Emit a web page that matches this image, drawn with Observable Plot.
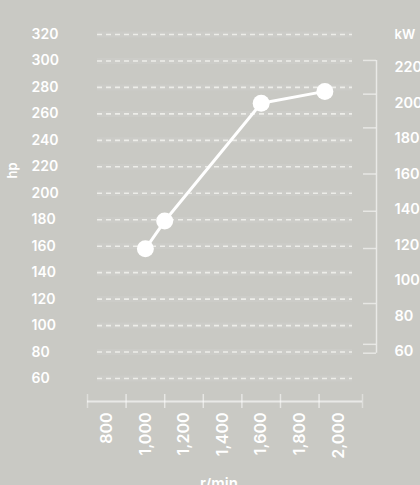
<!DOCTYPE html>
<html>
<head>
<meta charset="utf-8">
<script src="https://cdn.jsdelivr.net/npm/d3@7"></script>
<script src="https://cdn.jsdelivr.net/npm/@observablehq/plot@0.6"></script>
<style>
  html, body { margin: 0; padding: 0; background: #c9c9c4; overflow: hidden; }
  g[aria-label="x-labels"] text { letter-spacing: 1.2px; }
  g[aria-label="kw-title"] text { letter-spacing: 2px; }
  g[aria-label="hp-title"] text { letter-spacing: 1px; }
  g[aria-label="x-title"] text { letter-spacing: 2px; }
</style>
</head>
<body>
<div id="chart"></div>
<script>
// Data
const rpm = [1000, 1100, 1600, 1930];
const hp = [158, 179, 268, 277];
const hpTicks = [60, 80, 100, 120, 140, 160, 180, 200, 220, 240, 260, 280, 300, 320];
const kwTicks = [60, 80, 100, 120, 140, 160, 180, 200, 220];
const kwAxisTicks = [224, 205, 186, 160, 139, 118, 87, 64, 59];
const rpmTicks = [800, 1000, 1200, 1400, 1600, 1800, 2000];
const rpmAxisTicks = [900, 1100, 1300, 1500, 1700, 1900];
const HP_PER_KW = 1 / 0.7457;

const data = rpm.map((r, i) => ({rpm: r, hp: hp[i]}));
const fmt = d3.format(",");
const white = "#ffffff";
const font = "Inter, 'Liberation Sans', sans-serif";

const chart = Plot.plot({
  width: 420,
  height: 485,
  marginLeft: 87,
  marginRight: 58,
  marginTop: 34,
  marginBottom: 107,
  x: {domain: [700, 2125], axis: null},
  y: {domain: [60, 320], axis: null},
  style: {background: "#c9c9c4", color: white, fontFamily: font, overflow: "visible"},
  marks: [
    // faint bands behind grid lines
    Plot.ruleY(hpTicks, {y: d => d, stroke: white, strokeOpacity: 0.07, strokeWidth: 6, insetLeft: 10, insetRight: 10}),
    // dashed grid lines
    Plot.ruleY(hpTicks, {y: d => d, stroke: "#f2f2ee", strokeOpacity: 0.85, strokeWidth: 1.6, strokeDasharray: "5,4", insetLeft: 10, insetRight: 10}),
    // x axis line
    Plot.ruleY([60], {dy: 23, stroke: white, strokeOpacity: 0.6, strokeWidth: 2}),
    Plot.ruleX(rpmAxisTicks, {x: d => d, y1: 60, y2: 60, dy: 23, insetTop: -7, insetBottom: -7, stroke: white, strokeOpacity: 0.55, strokeWidth: 1.5}),
    Plot.ruleX([700, 2125], {x: d => d, y1: 60, y2: 60, dy: 23, insetTop: -7, insetBottom: -7, stroke: white, strokeOpacity: 0.4, strokeWidth: 1.5}),
    // right kW axis line
    Plot.ruleX([2125], {y1: 224 * HP_PER_KW, y2: 59 * HP_PER_KW, dx: 14, stroke: white, strokeOpacity: 0.6, strokeWidth: 1.5}),
    Plot.ruleY(kwAxisTicks, {y: d => d * HP_PER_KW, x1: 2125, x2: 2125, dx: 14, insetLeft: -13, insetRight: 0, stroke: white, strokeOpacity: 0.55, strokeWidth: 1.5}),
    // data line and points
    Plot.line(data, {x: "rpm", y: "hp", stroke: white, strokeWidth: 3}),
    Plot.dot(data, {x: "rpm", y: "hp", r: 8.5, fill: white, stroke: "none"}),
    // left hp labels
    Plot.text(hpTicks, {y: d => d, text: d => String(d), frameAnchor: "left", dx: -56, textAnchor: "start", fontSize: 14, fontWeight: 600, fill: white}),
    // hp title
    Plot.text(["hp"], {frameAnchor: "left", dx: -74.5, dy: -28, rotate: -90, fontSize: 13, fontWeight: 600, fill: white, ariaLabel: "hp-title"}),
    // right kW labels
    Plot.text(kwTicks, {y: d => d * HP_PER_KW, text: d => String(d), frameAnchor: "right", dx: 32, textAnchor: "start", fontSize: 14.5, fontWeight: 600, fill: white}),
    Plot.text(["kW"], {frameAnchor: "top-right", dx: 32, dy: -5, textAnchor: "start", fontSize: 13, fontWeight: 600, fill: white, ariaLabel: "kw-title"}),
    // x labels rotated
    Plot.text(rpmTicks, {x: d => d, text: d => fmt(d), frameAnchor: "bottom", dy: 34, rotate: -90, textAnchor: "end", lineAnchor: "middle", fontSize: 16, fontWeight: 600, fill: white, ariaLabel: "x-labels"}),
    // x title
    Plot.text(["r/min"], {frameAnchor: "bottom", dx: -6, dy: 100, lineAnchor: "top", fontSize: 15, fontWeight: 600, fill: white, ariaLabel: "x-title"})
  ]
});
document.getElementById("chart").appendChild(chart);
</script>
</body>
</html>
